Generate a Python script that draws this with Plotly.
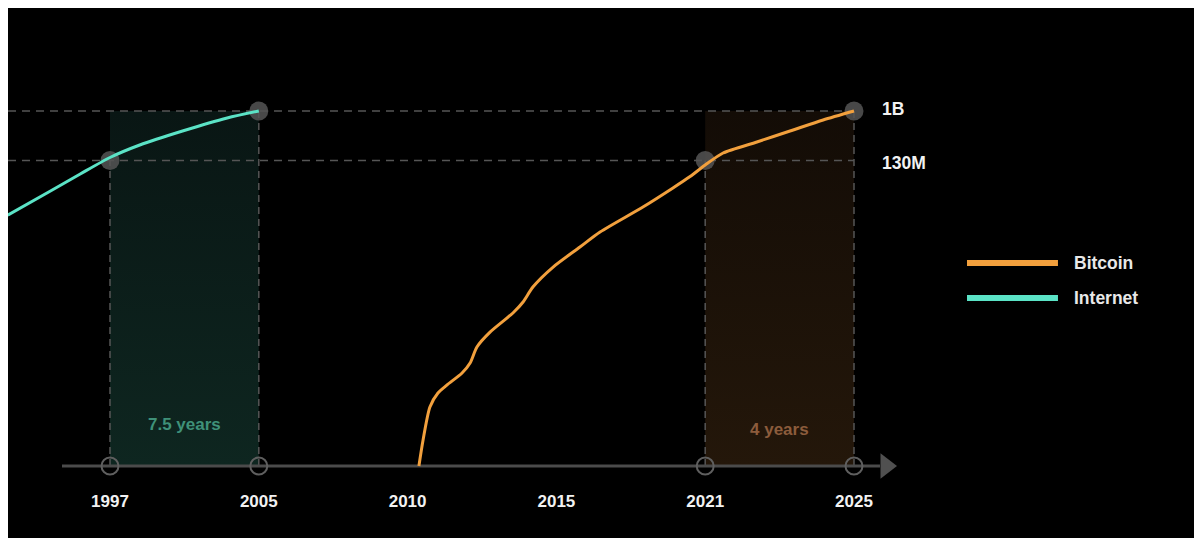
import numpy as np
import plotly.graph_objects as go

# ---------------- datos ----------------
tick_years = [1997, 2005, 2010, 2015, 2021, 2025]
tick_labels = ["1997", "2005", "2010", "2015", "2021", "2025"]

internet_years = [1991.5, 1993.8, 1995.4, 1997, 1998.6, 2000.9, 2003.3, 2005]
internet_users = [1.37e7, 3.7e7, 7.45e7, 1.47e8, 2.46e8, 4.38e8, 7.5e8, 1.0e9]

bitcoin_years = [2010.38, 2010.52, 2010.75, 2011.02, 2011.32, 2011.83, 2012.10, 2012.33,
                 2012.77, 2013.54, 2013.88, 2014.21, 2014.89, 2015.95, 2016.76, 2018.49,
                 2019.70, 2020.39, 2021.0, 2021.48, 2022.39, 2023.28, 2024.17, 2025]
bitcoin_users = [441, 1290, 5020, 8950, 12400, 20400, 30800, 59600,
                 1.10e5, 2.42e5, 3.81e5, 7.06e5, 1.61e6, 3.67e6, 6.82e6, 1.91e7,
                 4.19e7, 6.7e7, 1.08e8, 1.77e8, 2.79e8, 4.38e8, 6.9e8, 1.0e9]

# hitos: (inicio, fin) de cada periodo 130M -> 1B
periods = [(1997, 2005), (2021, 2025)]
period_labels = ["7.5 years", "4 years"]
level_values = [1.3e8, 1.0e9]
level_labels = ["130M", "1B"]

BASE = 441  # valor del eje horizontal (escala log)

ORANGE = "#F2A03D"
TEAL = "#5BE3C6"
GRID = "#555555"
FONT = "Liberation Sans"


def pos(year):
    # posiciones equiespaciadas para los años marcados
    year = np.asarray(year, dtype=float)
    p = np.interp(year, tick_years, np.arange(len(tick_years)))
    left = year < tick_years[0]
    p[left] = (year[left] - tick_years[0]) / (tick_years[1] - tick_years[0])
    return p


x_min, x_max = -0.6855, 7.285
fig = go.Figure()

# zonas sombreadas
shade = [
    ["rgb(14,38,32)", "rgb(9,22,20)"],
    ["rgb(36,23,10)", "rgb(19,12,6)"],
]
for (a, b), cols in zip(periods, shade):
    xa, xb = pos([a, b])
    fig.add_trace(go.Scatter(
        x=[xa, xb, xb, xa, xa], y=[BASE, BASE, 1e9, 1e9, BASE],
        mode="lines", line=dict(width=0), fill="toself",
        fillcolor=cols[0],
        fillgradient=dict(type="vertical", colorscale=[[0, cols[0]], [1, cols[1]]]),
        hoverinfo="skip", showlegend=False))

# lineas punteadas horizontales
for v in level_values:
    fig.add_trace(go.Scatter(
        x=[x_min, pos([2025])[0]], y=[v, v], mode="lines",
        line=dict(color=GRID, width=1.5, dash="8px,6px"),
        hoverinfo="skip", showlegend=False))

# lineas punteadas verticales
milestones_x = []
milestones_y = []
for (a, b) in periods:
    for yr, v in zip((a, b), level_values):
        xp = pos([yr])[0]
        milestones_x.append(xp)
        milestones_y.append(v)
        fig.add_trace(go.Scatter(
            x=[xp, xp], y=[BASE, v], mode="lines",
            line=dict(color=GRID, width=1.5, dash="7px,5px"),
            hoverinfo="skip", showlegend=False))

# eje horizontal con flecha
fig.add_trace(go.Scatter(
    x=[-0.3226, 5.1747], y=[BASE, BASE], mode="lines",
    line=dict(color="#4b4b4b", width=3), hoverinfo="skip", showlegend=False))
fig.add_trace(go.Scatter(
    x=[5.215], y=[BASE], mode="markers",
    marker=dict(symbol="triangle-right", size=22, color="#505050"),
    cliponaxis=False, hoverinfo="skip", showlegend=False))

# circulos en el eje
fig.add_trace(go.Scatter(
    x=milestones_x, y=[BASE] * len(milestones_x), mode="markers",
    marker=dict(size=17, color="rgba(0,0,0,0)", line=dict(color="#5f5f5f", width=2)),
    cliponaxis=False, hoverinfo="skip", showlegend=False))

# circulos de los hitos
fig.add_trace(go.Scatter(
    x=milestones_x, y=milestones_y, mode="markers",
    marker=dict(size=19, color="rgba(85,85,85,0.85)"),
    cliponaxis=False, hoverinfo="skip", showlegend=False))

# series
fig.add_trace(go.Scatter(
    x=pos(internet_years), y=internet_users, mode="lines", name="Internet",
    line=dict(color=TEAL, width=3, shape="spline", smoothing=0.7), showlegend=False))
fig.add_trace(go.Scatter(
    x=pos(bitcoin_years), y=bitcoin_users, mode="lines", name="Bitcoin",
    line=dict(color=ORANGE, width=3, shape="spline", smoothing=0.7), showlegend=False))

# textos
annotations = []
for v, lab, dy in zip(level_values, level_labels, [-2, 2]):
    annotations.append(dict(
        x=5.1747, y=np.log10(v), xref="x", yref="y", text=lab, showarrow=False,
        xanchor="left", yshift=dy, font=dict(family=FONT, size=17.5, color="#f2f2f2", weight="bold")))

period_cols = ["#3f9179", "#8c5c3c"]
period_y = [3.38, 3.29]
for (a, b), lab, c, yy in zip(periods, period_labels, period_cols, period_y):
    xa, xb = pos([a, b])
    annotations.append(dict(
        x=(xa + xb) / 2, y=yy, xref="x", yref="y", text=lab, showarrow=False,
        font=dict(family=FONT, size=17, color=c, weight="bold")))

# leyenda manual
legend_items = [("Bitcoin", ORANGE, 0.448), ("Internet", TEAL, 0.3723)]
shapes = []
for name, col, yy in legend_items:
    shapes.append(dict(type="line", xref="paper", yref="paper", x0=0.8086, x1=0.8853,
                       y0=yy, y1=yy, line=dict(color=col, width=6)))
    annotations.append(dict(
        x=0.8975, y=yy, xref="paper", yref="paper", text=name, showarrow=False,
        xanchor="left", font=dict(family=FONT, size=17.5, color="#e8e8e8", weight="bold")))

fig.update_layout(
    width=1186, height=530,
    margin=dict(l=0, r=0, t=0, b=68),
    paper_bgcolor="black", plot_bgcolor="black",
    showlegend=False,
    shapes=shapes, annotations=annotations,
    xaxis=dict(range=[x_min, x_max], tickvals=list(range(len(tick_years))), ticktext=tick_labels,
               showgrid=False, zeroline=False, showline=False,
               ticks="outside", ticklen=16, tickcolor="rgba(0,0,0,0)",
               tickfont=dict(family=FONT, size=17, color="#f2f2f2", weight="bold")),
    yaxis=dict(type="log", range=[2.573, 10.844], showgrid=False, zeroline=False,
               showline=False, showticklabels=False, ticks=""),
)

fig.write_html("out.html")
